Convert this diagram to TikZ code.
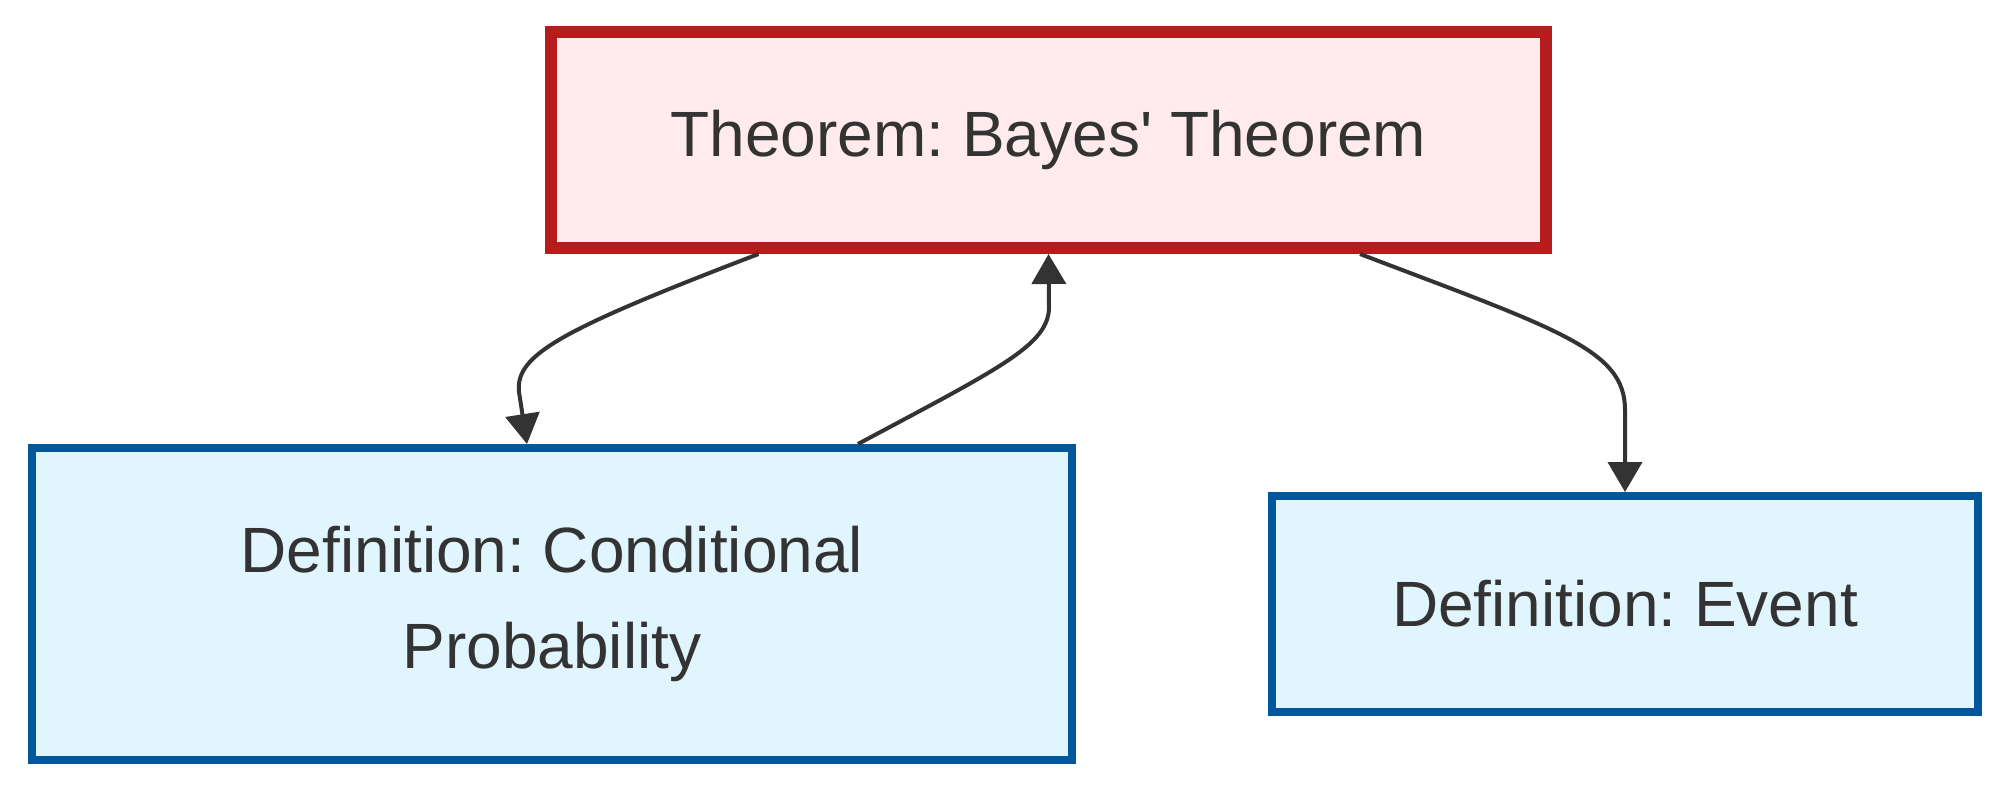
\documentclass[tikz,border=0pt]{standalone}
\usepackage{fontspec}
\setmainfont{Liberation Sans}
\frenchspacing
\usetikzlibrary{arrows.meta,calc}
\definecolor{thmline}{HTML}{B71C1C}
\definecolor{thmfill}{HTML}{FFEBEE}
\definecolor{defline}{HTML}{01579B}
\definecolor{deffill}{HTML}{E1F5FE}
\definecolor{ink}{HTML}{333333}
\begin{document}
\begin{tikzpicture}[x=0.5pt,y=-0.5pt,
    thmbox/.style={draw=thmline,fill=thmfill,line width=6pt,minimum width=497.5pt,minimum height=108pt,text=ink,font=\fontsize{32pt}{48pt}\selectfont},
    defbox/.style={draw=defline,fill=deffill,line width=4pt,text=ink,align=center,font=\fontsize{32pt}{48pt}\selectfont},
    link/.style={draw=ink,line width=2pt,-{Triangle[width=17pt,length=15pt]}}]
                \useasboundingbox (0,0) rectangle (2008,792);

                \node[thmbox] (thm) at (1048.5,140) {Theorem: Bayes\textquotesingle{} Theorem};
                \node[defbox,minimum width=520pt,minimum height=156pt] (cond) at (552,604) {Definition: Conditional\\Probability};
                \node[defbox,minimum width=353pt,minimum height=108pt] (event) at (1625,604) {Definition: Event};

                \coordinate (Cbend) at (519,392);
                \coordinate (Tbend) at (1049,307);
                \coordinate (Ebend) at (1625,410);

                \draw[link] ($(thm.south)+(-290,0)$) .. controls (560,330) and (515,355) .. (Cbend) -- ($(cond.north)+(-25,0)$);
                \draw[link] ($(cond.north)+(306,0)$) .. controls (1000,368) and (1049,345) .. (Tbend) -- (thm.south);
                \draw[link] ($(thm.south)+(311.5,0)$) .. controls (1560,330) and (1625,350) .. (Ebend) -- (event.north);
            \end{tikzpicture}
\end{document}
